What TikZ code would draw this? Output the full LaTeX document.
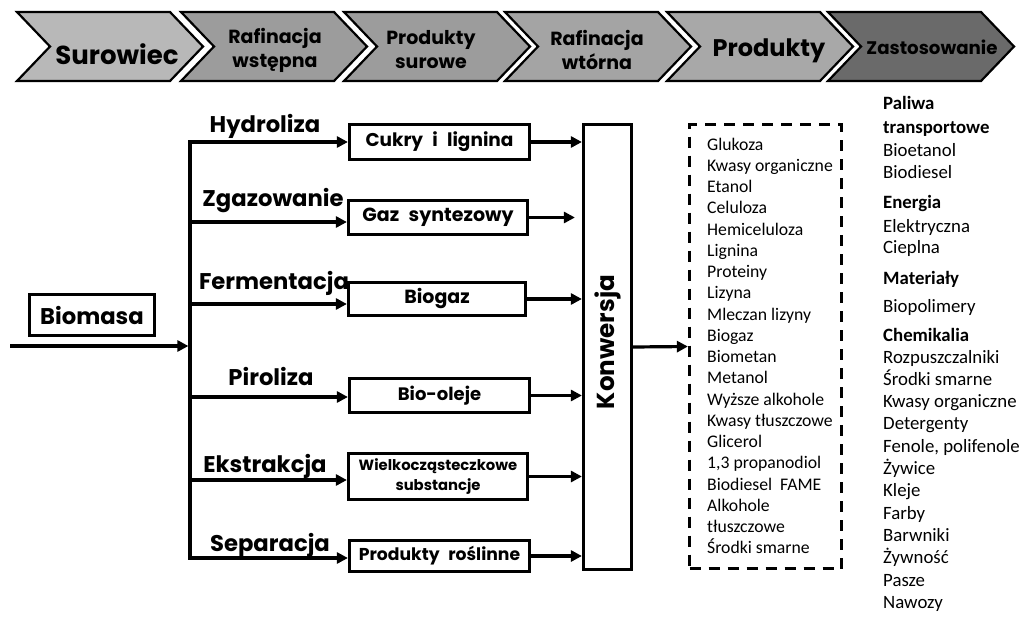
\documentclass[tikz,border=0pt]{standalone}
\usepackage{fontspec}
\setmainfont{Carlito}
\newfontfamily\comic{Poppins}
\usetikzlibrary{arrows.meta}
\definecolor{chA}{HTML}{B8B8B8}
\definecolor{chB}{HTML}{9C9C9C}
\definecolor{chC}{HTML}{A4A4A4}
\definecolor{chD}{HTML}{A8A8A8}
\definecolor{chE}{HTML}{6A6A6A}
\tikzset{
  chev/.style={draw=black, line width=2.2pt, line join=miter},
  hd/.style={font=\comic\bfseries\fontsize{19}{24}\selectfont, align=center, inner sep=0pt},
  hdbig/.style={font=\comic\bfseries\fontsize{26}{26}\selectfont, inner sep=0pt},
  box/.style={draw, line width=3.2pt, inner sep=0pt, font=\comic\bfseries\fontsize{18.5}{20}\selectfont},
  lab/.style={font=\comic\bfseries\fontsize{22.7}{23}\selectfont, anchor=base, inner sep=0pt},
  ln/.style={line width=3.2pt, line join=miter},
  tip/.tip={Triangle[length=11pt,width=11pt]},
  arr/.style={line width=3.2pt, -tip},
  item/.style={font=\fontsize{17.7}{17.7}\selectfont, anchor=base west, inner sep=0pt},
  itemr/.style={font=\fontsize{18.8}{18.8}\selectfont, anchor=base west, inner sep=0pt},
}
\begin{document}
\begin{tikzpicture}[x=1pt,y=-1pt]
\useasboundingbox[fill=white] (0,0) rectangle (1020,618);
% header chevrons
\foreach \L/\col in {17/chA,181/chB,344/chB,505/chC,667/chD,828/chE}
  \draw[chev, fill=\col] (\L,12) -- ++(153,0) -- ++(33,34.5) -- ++(-33,34.5) -- ++(-153,0) -- ++(33,-34.5) -- cycle;
\node[hdbig, anchor=base] (h1) at (117,64) {Surowiec};
\node[hd] (h2) at (275,50) {Rafinacja\\wstępna};
\node[hd] (h3) at (431,50) {Produkty\\surowe};
\node[hd] (h4) at (597,50) {Rafinacja\\wtórna};
\node[hdbig, font=\comic\bfseries\fontsize{24}{24}\selectfont, anchor=base] (h5) at (769,57) {Produkty};
\node[hd, font=\comic\bfseries\fontsize{18.2}{18.2}\selectfont, anchor=base] (h6) at (932,55) {Zastosowanie};

% biomass
\node[box, minimum width=125pt, minimum height=41pt, font=\comic\bfseries\fontsize{22.7}{22.7}\selectfont] (bio) at (92,315) {Biomasa};
\coordinate (in) at (10,346);
\coordinate (b1) at (190,142);
\coordinate (b2) at (190,222);
\coordinate (b3) at (190,304);
\coordinate (b4) at (190,397);
\coordinate (b5) at (190,480);
\coordinate (b6) at (190,558);

% process boxes
\node[box, minimum width=180pt, minimum height=35pt] (cukry) at (439.5,142) {Cukry\enspace i\enspace lignina};
\node[box, minimum width=179pt, minimum height=34pt, font=\comic\bfseries\fontsize{19}{20}\selectfont] (gaz) at (438,217.5) {Gaz\enspace syntezowy};
\node[box, minimum width=177pt, minimum height=33pt, font=\comic\bfseries\fontsize{19}{20}\selectfont] (biogaz) at (437,299) {Biogaz};
\node[box, minimum width=180pt, minimum height=34pt, font=\comic\bfseries\fontsize{18}{20}\selectfont] (olej) at (439.5,395.5) {Bio-oleje};
\node[box, minimum width=179pt, minimum height=46pt, align=center, font=\comic\bfseries\fontsize{14.8}{20}\selectfont] (wielk) at (438,476.5) {Wielkocząsteczkowe\\substancje};
\node[box, minimum width=180pt, minimum height=31pt, font=\comic\bfseries\fontsize{17.2}{20}\selectfont] (rosl) at (439.5,556) {Produkty\enspace roślinne};

\node[box, minimum width=48pt, minimum height=445pt] (konw) at (607.5,347) {};
\node[rotate=90, inner sep=0pt, font=\comic\bfseries\fontsize{24.6}{25}\selectfont] (konwt) at (607.5,342) {Konwersja};

\node[draw, line width=3.2pt, dash pattern=on 11pt off 8pt, minimum width=152pt, minimum height=444pt] (dbox) at (765.5,346.5) {};

% connectors
\draw[arr, shorten >=1.6pt] (in) -- (in -| b1);
\draw[ln, tip-tip] (cukry.west |- b1) -- (b1) -- (b6) -- (rosl.west |- b6);
\draw[arr] (b2) -- (gaz.west |- b2);
\draw[arr] (b3) -- (biogaz.west |- b3);
\draw[arr] (b4) -- (olej.west |- b4);
\draw[arr] (b5) -- (wielk.west |- b5);

\draw[arr] (cukry.east) -- (konw.west |- cukry.east);
\draw[arr, shorten >=7pt] (gaz.east) -- (konw.west |- gaz.east);
\draw[arr] (biogaz.east) -- (konw.west |- biogaz.east);
\draw[arr] (olej.east) -- (konw.west |- olej.east);
\draw[arr] (wielk.east) -- (konw.west |- wielk.east);
\draw[arr] (rosl.east) -- (konw.west |- rosl.east);
\draw[arr] (konw.east) -- (dbox.west);

% branch labels
\node[lab] (l1) at (265,132) {Hydroliza};
\node[lab] (l2) at (273,206) {Zgazowanie};
\node[lab] (l3) at (274,289) {Fermentacja};
\node[lab] (l4) at (271,385) {Piroliza};
\node[lab] (l5) at (265,472) {Ekstrakcja};
\node[lab] (l6) at (270,551) {Separacja};

% products list
\foreach \t [count=\i] in {Glukoza, Kwasy organiczne, Etanol, Celuloza, Hemiceluloza, Lignina, Proteiny, Lizyna, Mleczan lizyny, Biogaz, Biometan, Metanol, Wyższe alkohole, Kwasy tłuszczowe, Glicerol, {1,3 propanodiol}, Biodiesel\ \ FAME, Alkohole, tłuszczowe, Środki smarne}
  \node[item] (p\i) at (707, {150+21.26*(\i-1)}) {\t};

% applications list
\foreach \t/\y [count=\i] in {\textbf{Paliwa}/110, \textbf{transportowe}/133, Bioetanol/156, Biodiesel/178, \textbf{Energia}/208, Elektryczna/232, Cieplna/253, \textbf{Materiały}/284, Biopolimery/312, \textbf{Chemikalia}/341, Rozpuszczalniki/363, Środki smarne/385.3, Kwasy organiczne/407.6, Detergenty/429.9, {Fenole, polifenole}/452.2, Żywice/474.5, Kleje/496.8, Farby/519.1, Barwniki/541.4, Żywność/563.7, Pasze/586, Nawozy/608.3}
  \node[itemr] (z\i) at (883, \y) {\t};
\end{tikzpicture}
\end{document}
